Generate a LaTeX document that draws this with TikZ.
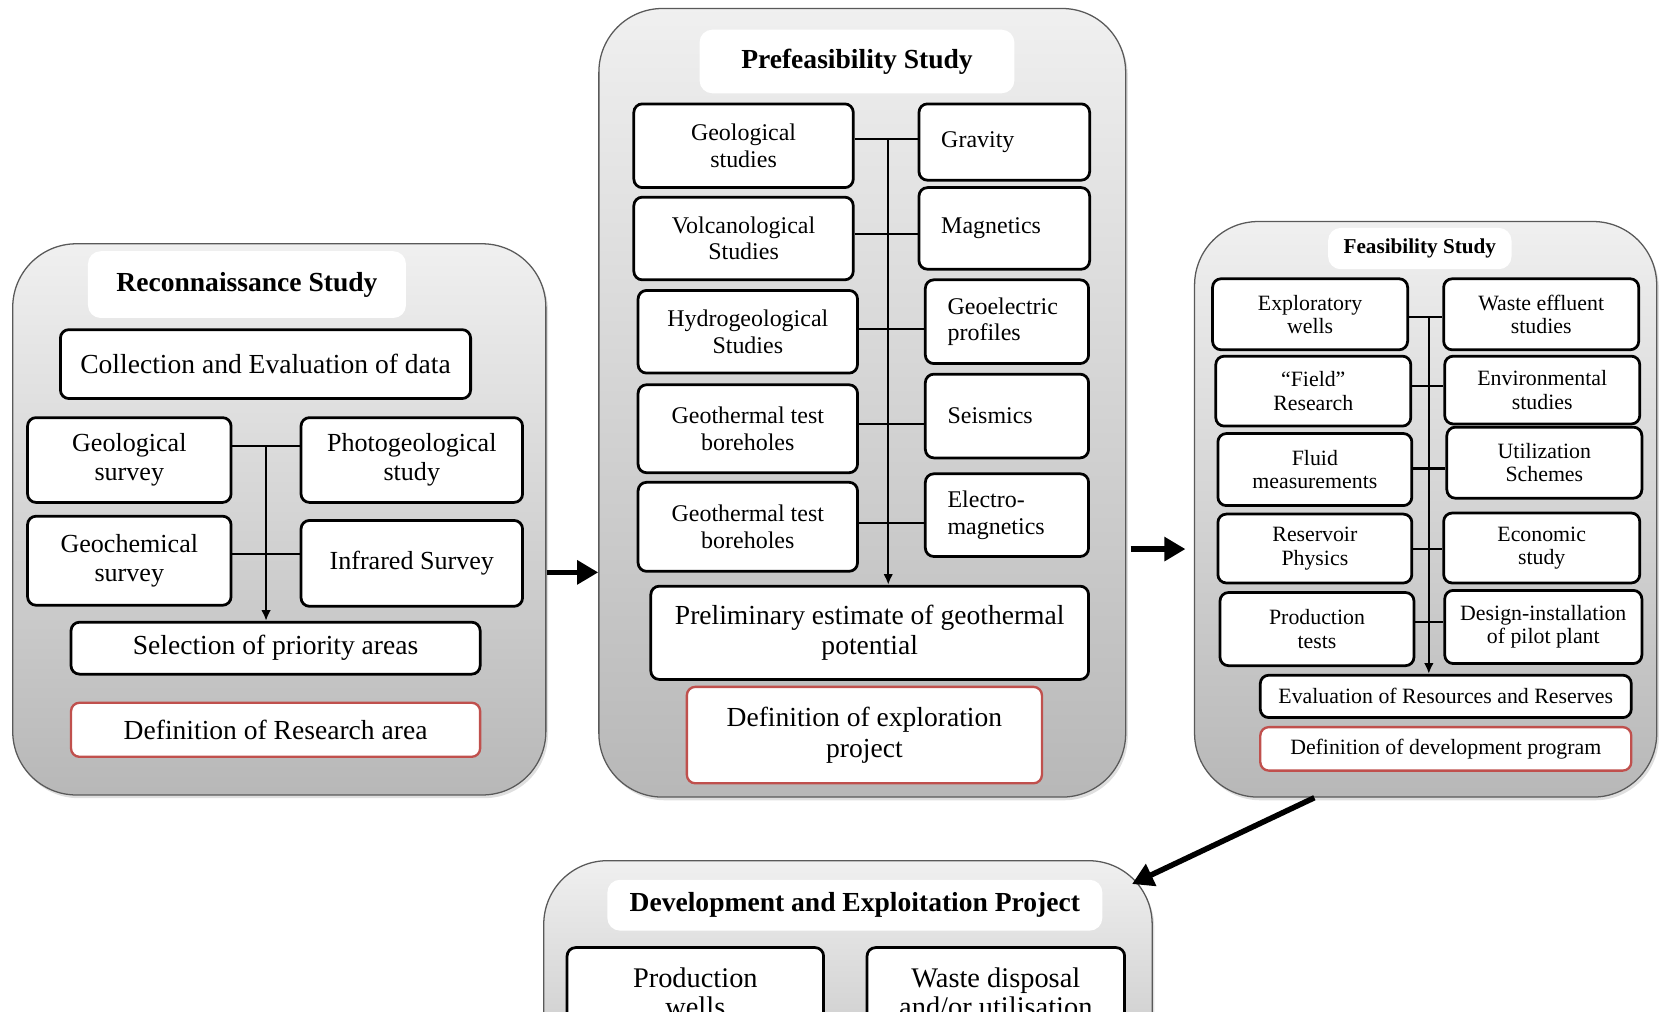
\documentclass[tikz,border=0pt]{standalone}
\usepackage{fontspec}
\setmainfont{Liberation Serif}
\usetikzlibrary{arrows.meta, shadows}
\definecolor{defred}{HTML}{C0504D}

\begin{document}
\begin{tikzpicture}[x=0.5pt, y=-0.5pt,
  panel/.style={draw=black!65, line width=0.6pt, rounded corners=30pt,
    top color=black!6, bottom color=black!28,
    drop shadow={opacity=0.25, shadow xshift=1pt, shadow yshift=-1.5pt}},
  head/.style={fill=white, rounded corners=6pt, font=\bfseries\fontsize{13}{15}\selectfont},
  item/.style={draw, fill=white, line width=1.3pt, rounded corners=4pt, align=center, inner sep=1pt},
  goal/.style={item, draw=defred, line width=1.1pt},
  wh/.style 2 args={minimum width=#1, minimum height=#2},
  bigtext/.style={font=\fontsize{13}{14.5}\selectfont},
  midtext/.style={font=\fontsize{12.3}{13.5}\selectfont},
  smalltext/.style={font=\fontsize{11.3}{12.5}\selectfont},
  tinytext/.style={font=\fontsize{10.3}{11}\selectfont},
  leftset/.style={align=left, inner xsep=10.5pt, text width=#1},
  link/.style={line width=1pt},
  down/.style={link, -{Latex[length=5pt,width=4.5pt]}},
  jump/.style={line width=2.6pt, -{Triangle[length=10pt,width=11pt]}},
]
\useasboundingbox (0,0) rectangle (1568,954);
\clip (0,0) rectangle (1568,954);

% reconnaissance study
\node[panel, wh={251.5pt}{260pt}] (recon) at (263.5,490) {};
\node[head, wh={150pt}{31.5pt}] (reconhead) at (233,268.5) {Reconnaissance Study};
\node[item, bigtext, wh={193.5pt}{32.5pt}] (collect) at (250.5,343.5) {Collection and Evaluation of data};
\node[item, midtext, wh={96pt}{40pt}] (geosurv) at (122,434) {Geological\\survey};
\node[item, midtext, wh={104.5pt}{40pt}] (photo) at (388.5,434) {Photogeological\\study};
\node[item, midtext, wh={96pt}{42pt}] (geochem) at (122,529) {Geochemical\\survey};
\node[item, midtext, wh={104.5pt}{40.5pt}] (infra) at (388.5,531.5) {Infrared Survey};
\node[item, bigtext, wh={193pt}{24.5pt}] (select) at (260,611.5) {Selection of priority areas};
\node[goal, bigtext, wh={193pt}{25.5pt}] (research) at (260,688.5) {Definition of Research area};

\coordinate (trunkL) at (251,421);
\draw[link] (geosurv.east |- trunkL) -- (photo.west |- trunkL);
\draw[link] (geochem.east |- 0,523) -- (infra.west |- 0,523);
\draw[down] (trunkL) -- (trunkL |- select.north);

% prefeasibility study
\node[panel, wh={248.5pt}{372pt}] (prefeas) at (813.5,380) {};
\node[head, wh={148.5pt}{30pt}] (prefeashead) at (808.5,58) {Prefeasibility Study};
\node[item, smalltext, wh={103.5pt}{39.5pt}] (geostud) at (701.5,137.5) {Geological\\studies};
\node[item, smalltext, wh={103.5pt}{39pt}] (volc) at (701.5,225) {Volcanological\\Studies};
\node[item, smalltext, wh={103.5pt}{39pt}] (hydro) at (705.5,313) {Hydrogeological\\Studies};
\node[item, smalltext, wh={103.5pt}{41.5pt}] (bore1) at (705.5,404.5) {Geothermal test\\boreholes};
\node[item, smalltext, wh={103.5pt}{42pt}] (bore2) at (705.5,497) {Geothermal test\\boreholes};
\node[item, smalltext, leftset=59.5pt, wh={80.5pt}{36pt}] (grav) at (947.5,134) {Gravity};
\node[item, smalltext, leftset=59.5pt, wh={80.5pt}{38.5pt}] (magn) at (947.5,215.5) {Magnetics};
\node[item, smalltext, leftset=56pt, wh={77pt}{39.5pt}] (geoel) at (950,303.5) {Geoelectric\\profiles};
\node[item, smalltext, leftset=56pt, wh={77pt}{39.5pt}] (seis) at (950,392.5) {Seismics};
\node[item, smalltext, leftset=56pt, wh={77pt}{39pt}] (emag) at (950,486) {Electro-\\magnetics};
\node[item, bigtext, wh={206.5pt}{44pt}] (prelim) at (820.5,597) {Preliminary estimate of geothermal\\potential};
\node[goal, bigtext, wh={167.5pt}{45.5pt}] (explo) at (815.5,693.5) {Definition of exploration\\project};

\coordinate (trunkM) at (838,131);
\foreach \a/\b/\y in {geostud/grav/131, volc/magn/221, hydro/geoel/310, bore1/seis/400, bore2/emag/493}
  \draw[link] (\a.east |- 0,\y) -- (\b.west |- 0,\y);
\draw[down] (trunkM) -- (trunkM |- prelim.north);

% feasibility study
\node[panel, wh={218pt}{271.5pt}] (feas) at (1345,480.5) {};
\node[head, font=\bfseries\fontsize{10}{12}\selectfont, wh={86.5pt}{19.5pt}] (feashead) at (1339.5,234.5) {Feasibility Study};
\node[item, tinytext, wh={92pt}{33.5pt}] (expl) at (1236,296.5) {Exploratory\\wells};
\node[item, tinytext, wh={92pt}{33pt}] (field) at (1239,369) {“Field”\\Research};
\node[item, tinytext, wh={91.5pt}{34pt}] (fluid) at (1240.5,443) {Fluid\\measurements};
\node[item, tinytext, wh={91.5pt}{32.5pt}] (resv) at (1240.5,517.5) {Reservoir\\Physics};
\node[item, tinytext, wh={91.5pt}{34.5pt}] (prod) at (1242.5,593.5) {Production\\tests};
\node[item, tinytext, wh={92pt}{33.5pt}] (waste) at (1454,296.5) {Waste effluent\\studies};
\node[item, tinytext, wh={92pt}{32pt}] (env) at (1455,368) {Environmental\\studies};
\node[item, tinytext, wh={92pt}{33.5pt}] (util) at (1457,436.5) {Utilization\\Schemes};
\node[item, tinytext, wh={92.5pt}{33pt}] (econ) at (1454.5,517) {Economic\\study};
\node[item, tinytext, wh={93pt}{34.5pt}] (design) at (1456,591.5) {Design-installation\\of pilot plant};
\node[item, tinytext, wh={175pt}{20pt}] (eval) at (1364,657) {Evaluation of Resources and Reserves};
\node[goal, tinytext, wh={175pt}{20.5pt}] (devprog) at (1364,706.5) {Definition of development program};

\coordinate (trunkR) at (1348,299);
\foreach \a/\b/\y in {expl/waste/299, field/env/364, fluid/util/442, resv/econ/518, prod/design/587}
  \draw[link] (\a.east |- 0,\y) -- (\b.west |- 0,\y);
\draw[down] (trunkR) -- (trunkR |- eval.north);

% development and exploitation project
\node[panel, wh={287pt}{144pt}] (devel) at (800,956) {};
\node[head, wh={233.5pt}{24pt}] (develhead) at (806.5,854) {Development and Exploitation Project};
\node[item, font=\fontsize{13.4}{14}\selectfont, wh={121pt}{42pt}] (pwells) at (656,936) {Production\\wells};
\node[item, font=\fontsize{13.4}{14}\selectfont, wh={121.5pt}{42pt}] (wdisp) at (939.5,936) {Waste disposal\\and/or utilisation};

% stage arrows
\coordinate (tipB) at (1068,834);
\draw[jump] (recon.east |- 0,540) -- (prefeas.west |- 0,540);
\draw[jump, shorten <=2pt, shorten >=4pt] (prefeas.east |- 0,518) -- (feas.west |- 0,518);
\draw[jump] (feas.south -| 1240,0) -- (tipB);

\end{tikzpicture}
\end{document}
